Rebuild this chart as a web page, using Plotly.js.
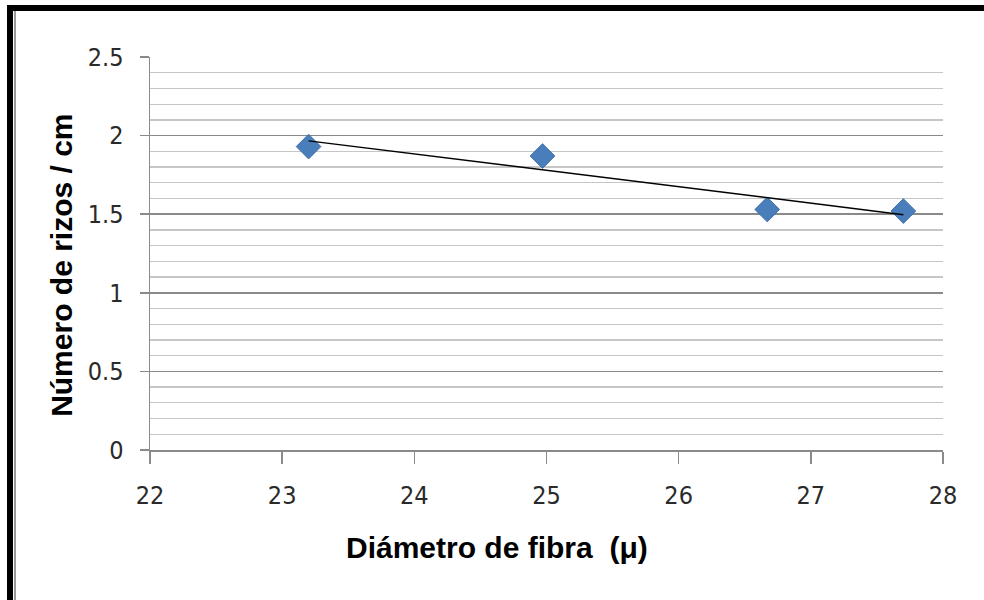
<!DOCTYPE html>
<html>
<head>
<meta charset="utf-8">
<script src="https://cdn.plot.ly/plotly-3.0.1.min.js"></script>
<style>
  html, body { margin: 0; padding: 0; background: #fff; }
  #chart { position: absolute; left: 0; top: 0; width: 984px; height: 600px; }
  .bTop { position: absolute; left: 7px; top: 5px; width: 977px; height: 6px; background: #000; }
  .bLeft { position: absolute; left: 7px; top: 5px; width: 6px; height: 595px; background: #000; }
  .bGray { position: absolute; left: 14px; top: 11px; width: 2px; height: 589px; background: #999; }
</style>
</head>
<body>
<div id="chart"></div>
<div class="bTop"></div>
<div class="bLeft"></div>
<div class="bGray"></div>
<script>
// Data
const diametro = [23.2, 24.97, 26.67, 27.7];   // Diámetro de fibra (μ)
const rizos = [1.93, 1.87, 1.53, 1.52];         // Número de rizos / cm
const xTicks = [22, 23, 24, 25, 26, 27, 28];
const yTicks = [0, 0.5, 1, 1.5, 2, 2.5];
const xTitle = 'Diámetro de fibra  (μ)';
const yTitle = 'Número de rizos / cm';

// Linear (least squares) trendline from the data
const n = diametro.length;
const mx = diametro.reduce((a, b) => a + b, 0) / n;
const my = rizos.reduce((a, b) => a + b, 0) / n;
let sxy = 0, sxx = 0;
for (let i = 0; i < n; i++) { sxy += (diametro[i] - mx) * (rizos[i] - my); sxx += (diametro[i] - mx) ** 2; }
const slope = sxy / sxx, icpt = my - slope * mx;
const trendX = [Math.min(...diametro), Math.max(...diametro)];
const trendY = trendX.map(x => icpt + slope * x);

const tickFont = { family: '"DejaVu Sans Condensed", "Liberation Sans Narrow", sans-serif', size: 25, color: '#2a2a2a' };
const titleFont = { family: '"Liberation Sans", Arial, sans-serif', size: 30, color: '#000', weight: 'bold' };

const data = [
  {
    x: diametro, y: rizos, type: 'scatter', mode: 'markers',
    marker: { symbol: 'diamond', size: 19, color: '#4a7ebb', line: { color: '#3f70aa', width: 1 } },
    hoverinfo: 'skip'
  },
  {
    x: trendX, y: trendY, type: 'scatter', mode: 'lines',
    line: { color: '#000', width: 1.5 }, hoverinfo: 'skip'
  }
];

const layout = {
  width: 984, height: 600,
  margin: { l: 150, r: 41, t: 57, b: 150 },
  paper_bgcolor: '#fff', plot_bgcolor: '#fff',
  showlegend: false, hovermode: false,
  xaxis: {
    range: [22, 28], tickvals: xTicks, ticktext: xTicks.map(String),
    showgrid: false, zeroline: false,
    showline: true, linecolor: '#8a8a8a', linewidth: 1.5,
    ticks: 'outside', ticklen: 12, tickcolor: '#8a8a8a', tickwidth: 1.5,
    tickfont: tickFont, ticklabelstandoff: 10
  },
  yaxis: {
    range: [0, 2.5], tickvals: yTicks, ticktext: yTicks.map(String),
    showgrid: true, gridcolor: '#8a8a8a', gridwidth: 1.5,
    minor: { dtick: 0.1, showgrid: true, gridcolor: '#c6c6c6', gridwidth: 1.3, ticks: '' },
    zeroline: false,
    showline: true, linecolor: '#8a8a8a', linewidth: 1.5,
    ticks: 'outside', ticklen: 9, tickcolor: '#8a8a8a', tickwidth: 1.5,
    tickfont: tickFont, ticklabelstandoff: 11
  },
  annotations: [
    { text: xTitle, xref: 'paper', yref: 'paper', x: 0.438, y: -0.249, xanchor: 'center', yanchor: 'middle',
      showarrow: false, font: titleFont },
    { text: yTitle, xref: 'paper', yref: 'paper', x: -0.111, y: 0.471, xanchor: 'center', yanchor: 'middle',
      textangle: -90, showarrow: false, font: titleFont }
  ]
};

Plotly.newPlot('chart', data, layout, { displayModeBar: false, staticPlot: true });
</script>
</body>
</html>
